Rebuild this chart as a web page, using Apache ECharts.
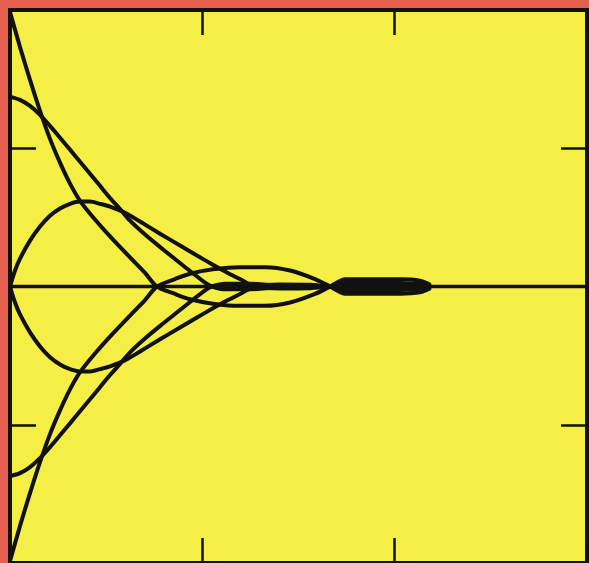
<!DOCTYPE html>
<html>
<head>
<meta charset="utf-8">
<script src="https://cdn.jsdelivr.net/npm/echarts@6/dist/echarts.min.js"></script>
<style>
  html, body { margin: 0; padding: 0; background: #e55f4e; }
  #chart { width: 589px; height: 563px; }
</style>
</head>
<body>
<div id="chart"></div>
<script>
// curves, [x, y]
let curveA = [[0, 0.993], [0.052, 0.866], [0.104, 0.747], [0.156, 0.635], [0.208, 0.534], [0.26, 0.448], [0.312, 0.372], [0.364, 0.31], [0.442, 0.242], [0.52, 0.181], [0.624, 0.105], [0.702, 0.049], [0.764, 0], [0.858, -0.027], [0.936, -0.046], [1.055, -0.062], [1.196, -0.07], [1.326, -0.07], [1.456, -0.058], [1.586, -0.027], [1.664, 0], [1.705, 0.016], [1.742, 0.026], [2.028, 0.026], [2.132, 0.021], [2.18, 0.008]];
let curveB = [[0, 0.686], [0.052, 0.675], [0.104, 0.653], [0.156, 0.621], [0.208, 0.581], [0.26, 0.538], [0.312, 0.495], [0.364, 0.451], [0.416, 0.408], [0.468, 0.364], [0.52, 0.32], [0.572, 0.28], [0.624, 0.238], [0.702, 0.188], [0.796, 0.134], [0.9, 0.076], [1.014, 0.014], [1.05, 0], [1.118, -0.01], [1.248, -0.01], [1.378, -0.004], [1.508, 0.004], [1.664, 0], [1.742, -0.013], [2.028, -0.013], [2.18, -0.005]];
let curveC = [[0, 0], [0.026, 0.058], [0.052, 0.101], [0.104, 0.166], [0.156, 0.217], [0.208, 0.256], [0.26, 0.282], [0.312, 0.299], [0.364, 0.307], [0.416, 0.307], [0.468, 0.299], [0.52, 0.289], [0.598, 0.267], [0.676, 0.235], [0.78, 0.191], [0.884, 0.148], [0.972, 0.112], [1.055, 0.079], [1.128, 0.051], [1.201, 0.025], [1.274, 0], [1.404, -0.007], [1.56, -0.006], [1.664, 0], [2.18, 0]];
let curveD = [[0, 0], [0.026, -0.058], [0.052, -0.101], [0.104, -0.166], [0.156, -0.217], [0.208, -0.256], [0.26, -0.282], [0.312, -0.299], [0.364, -0.307], [0.416, -0.307], [0.468, -0.299], [0.52, -0.289], [0.598, -0.267], [0.676, -0.235], [0.78, -0.191], [0.884, -0.148], [0.972, -0.112], [1.055, -0.079], [1.128, -0.051], [1.201, -0.025], [1.274, 0], [1.404, 0.007], [1.56, 0.006], [1.664, 0], [2.18, 0]];
let curveE = [[0, -0.686], [0.052, -0.675], [0.104, -0.653], [0.156, -0.621], [0.208, -0.581], [0.26, -0.538], [0.312, -0.495], [0.364, -0.451], [0.416, -0.408], [0.468, -0.364], [0.52, -0.32], [0.572, -0.28], [0.624, -0.238], [0.702, -0.188], [0.796, -0.134], [0.9, -0.076], [1.014, -0.014], [1.05, 0], [1.118, 0.01], [1.248, 0.01], [1.378, 0.004], [1.508, -0.004], [1.664, 0], [1.742, 0.013], [2.028, 0.013], [2.18, 0.005]];
let curveF = [[0, -0.993], [0.052, -0.866], [0.104, -0.747], [0.156, -0.635], [0.208, -0.534], [0.26, -0.448], [0.312, -0.372], [0.364, -0.31], [0.442, -0.242], [0.52, -0.181], [0.624, -0.105], [0.702, -0.049], [0.764, 0], [0.858, 0.027], [0.936, 0.046], [1.055, 0.062], [1.196, 0.07], [1.326, 0.07], [1.456, 0.058], [1.586, 0.027], [1.664, 0], [1.705, -0.016], [1.742, -0.026], [2.028, -0.026], [2.132, -0.021], [2.18, -0.008]];
let zeroLine = [[0, 0], [3, 0]];

let ink = '#111';

function axisX (pos) {
  return {
    type: 'value',
    position: pos,
    min: 0,
    max: 3,
    interval: 1,
    axisLine: { show: false, onZero: false },
    axisTick: { inside: true, length: 25, lineStyle: { color: ink, width: 2.5 } },
    axisLabel: { show: false },
    splitLine: { show: false }
  };
}

function axisY (pos) {
  return {
    type: 'value',
    position: pos,
    min: -1,
    max: 1,
    interval: 0.5,
    axisLine: { show: false, onZero: false },
    axisTick: { inside: true, length: 26, lineStyle: { color: ink, width: 2.5 } },
    axisLabel: { show: false },
    splitLine: { show: false }
  };
}

function curve (data, width) {
  return {
    type: 'line',
    data: data,
    smooth: 0.3,
    showSymbol: false,
    silent: true,
    lineStyle: { color: ink, width: width, cap: 'round' }
  };
}

let chart = echarts.init(document.getElementById('chart'));
chart.setOption({
  animation: false,
  backgroundColor: '#e55f4e',
  grid: {
    show: true,
    left: 10,
    top: 10,
    width: 577,
    height: 554,
    backgroundColor: '#f5ee45',
    borderColor: ink,
    borderWidth: 4
  },
  xAxis: [axisX('bottom'), axisX('top')],
  yAxis: [axisY('left'), axisY('right')],
  series: [
    curve(zeroLine, 3.5),
    curve(curveA, 4),
    curve(curveB, 4),
    curve(curveC, 4),
    curve(curveD, 4),
    curve(curveE, 4),
    curve(curveF, 4)
  ]
});
</script>
</body>
</html>
